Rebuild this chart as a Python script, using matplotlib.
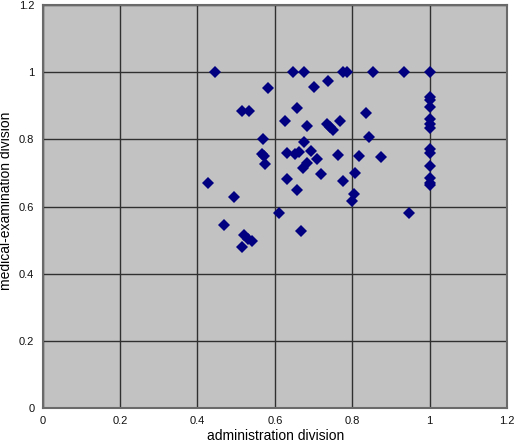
'''
Scatter of medical-examination division vs administration division scores
'''
import matplotlib
matplotlib.use("Agg")
import matplotlib.pyplot as plt

# data
admin = [
    0.444, 0.647, 0.675, 0.776, 0.787, 0.854, 0.933, 1.0,
    0.737, 0.701, 0.583,
    1.0, 1.0, 1.0,
    0.658, 0.514, 0.533, 0.836,
    0.626, 0.769, 1.0, 1.0, 1.0,
    0.682, 0.735, 0.742, 0.749,
    0.570, 0.843, 0.675,
    1.0, 1.0,
    0.566, 0.572, 0.632, 0.652, 0.662, 0.694, 0.710, 0.763, 0.817, 0.875,
    0.575, 0.683, 0.674, 0.719, 1.0, 0.808,
    0.632, 0.776, 1.0, 1.0, 1.0,
    0.427, 0.657, 0.804, 0.799, 0.495,
    0.611, 0.946, 0.469, 0.667,
    0.520, 0.531, 0.540, 0.516,
]
medical = [
    1.0, 1.0, 1.0, 1.0, 1.0, 1.0, 1.0, 1.0,
    0.975, 0.955, 0.952,
    0.928, 0.918, 0.898,
    0.893, 0.885, 0.885, 0.880,
    0.856, 0.856, 0.860, 0.845, 0.835,
    0.841, 0.846, 0.838, 0.828,
    0.801, 0.808, 0.791,
    0.772, 0.760,
    0.758, 0.750, 0.761, 0.758, 0.763, 0.766, 0.741, 0.755, 0.750, 0.748,
    0.726, 0.730, 0.714, 0.697, 0.721, 0.699,
    0.681, 0.677, 0.684, 0.671, 0.665,
    0.670, 0.649, 0.636, 0.617, 0.627,
    0.582, 0.580, 0.546, 0.528,
    0.514, 0.502, 0.496, 0.478,
]
ticks = [0, 0.2, 0.4, 0.6, 0.8, 1.0, 1.2]
tick_labels = ["0", "0.2", "0.4", "0.6", "0.8", "1", "1.2"]

plt.rcParams["font.family"] = ["Liberation Sans", "DejaVu Sans"]

fig, ax = plt.subplots(figsize=(5.17, 4.45), dpi=100)
fig.subplots_adjust(left=0.0826, right=0.9807, bottom=0.0838, top=0.988)

ax.set_facecolor("#c2c2c2")
ax.plot(admin, medical, linestyle="none", marker="D", markersize=6.3,
        color="#000080", markeredgewidth=0, zorder=3)

ax.set_xlim(0, 1.2)
ax.set_ylim(0, 1.2)
ax.set_xticks(ticks, tick_labels)
ax.set_yticks(ticks, tick_labels)
ax.tick_params(length=0, labelsize=8, colors="#111111", pad=6)
ax.grid(True, color="#303030", linewidth=1.0, zorder=1)
ax.set_axisbelow(True)
for sp in ax.spines.values():
    sp.set_color("#6a6a6a")
    sp.set_linewidth(1.5)

ax.set_xlabel("administration division", fontsize=10, va="center")
ax.set_ylabel("medical-examination division", fontsize=10, va="center")
ax.xaxis.set_label_coords(0.502, -0.070)
ax.yaxis.set_label_coords(-0.079, 0.515)

fig.savefig("out.png", dpi=100)
